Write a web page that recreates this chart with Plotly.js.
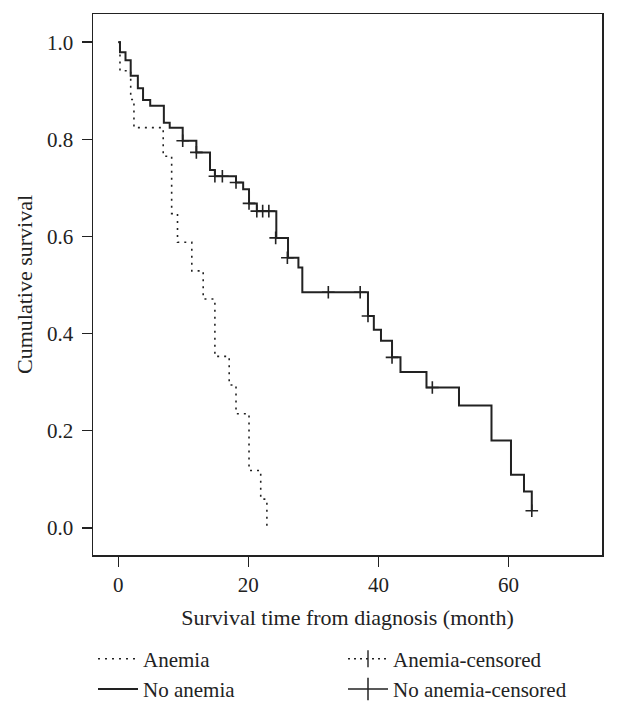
<!DOCTYPE html>
<html>
<head>
<meta charset="utf-8">
<script src="https://cdn.plot.ly/plotly-3.0.1.min.js"></script>
<style>
  html, body { margin: 0; padding: 0; background: #ffffff; }
  #chart { width: 617px; height: 708px; }
</style>
</head>
<body>
<div id="chart"></div>
<script>
// ---- data ----
const noAnemiaTime = [0, 0.25, 1.1, 1.9, 3.0, 3.8, 4.9, 7.0, 7.9, 9.9, 12.0, 14.1, 14.85, 18.1, 19.2, 20.1, 21.3, 24.3, 26.1, 27.7, 28.3, 38.4, 39.3, 40.4, 42.1, 43.4, 47.4, 52.4, 57.4, 60.4, 62.4, 63.6];
const noAnemiaSurv = [1.0, 0.979, 0.963, 0.931, 0.905, 0.881, 0.869, 0.834, 0.824, 0.797, 0.773, 0.737, 0.724, 0.711, 0.697, 0.668, 0.652, 0.597, 0.556, 0.536, 0.485, 0.436, 0.408, 0.385, 0.351, 0.321, 0.289, 0.252, 0.180, 0.109, 0.075, 0.035];

const noAnemiaCensorTime = [9.9, 12.0, 14.85, 16.0, 18.1, 20.1, 21.3, 22.2, 23.15, 24.2, 26.0, 32.3, 37.2, 38.4, 42.1, 48.3, 63.6];
const noAnemiaCensorSurv = [0.797, 0.773, 0.724, 0.724, 0.711, 0.668, 0.652, 0.652, 0.652, 0.597, 0.556, 0.485, 0.485, 0.436, 0.351, 0.289, 0.035];

const anemiaTime = [0, 0.25, 1.9, 2.4, 6.9, 8.2, 9.1, 11.3, 13.05, 14.85, 17.05, 18.1, 20.1, 21.9, 22.85];
const anemiaSurv = [1.0, 0.941, 0.882, 0.824, 0.765, 0.647, 0.588, 0.529, 0.471, 0.353, 0.294, 0.235, 0.118, 0.059, 0.0];

const xTicks = [0, 20, 40, 60];
const yTicks = [0.0, 0.2, 0.4, 0.6, 0.8, 1.0];
const seriesNames = ['Anemia', 'Anemia-censored', 'No anemia', 'No anemia-censored'];
const xTitle = 'Survival time from diagnosis (month)';
const yTitle = 'Cumulative survival';

// ---- styling ----
const ink = '#222222';
const serif = 'Liberation Serif, Times New Roman, serif';

const traces = [
  { // Anemia (dotted step)
    x: anemiaTime, y: anemiaSurv, type: 'scatter', mode: 'lines',
    line: { shape: 'hv', color: ink, width: 1.6, dash: '2px,5px' },
    name: seriesNames[0], hoverinfo: 'skip'
  },
  { // Anemia-censored (legend only)
    x: [null], y: [null], type: 'scatter', mode: 'lines+markers',
    line: { color: ink, width: 1.4, dash: '2px,4px' },
    marker: { symbol: 'line-ns-open', size: 12, color: ink, line: { color: ink, width: 1.4 } },
    name: seriesNames[1]
  },
  { // No anemia (solid step)
    x: noAnemiaTime, y: noAnemiaSurv, type: 'scatter', mode: 'lines',
    line: { shape: 'hv', color: ink, width: 2 },
    name: seriesNames[2], hoverinfo: 'skip'
  },
  { // No anemia-censored (legend only)
    x: [null], y: [null], type: 'scatter', mode: 'lines+markers',
    line: { color: ink, width: 1.5 },
    marker: { symbol: 'line-ns-open', size: 16, color: ink, line: { color: ink, width: 1.5 } },
    name: seriesNames[3]
  },
  { // No anemia censor marks
    x: noAnemiaCensorTime, y: noAnemiaCensorSurv, type: 'scatter', mode: 'markers',
    marker: { symbol: 'cross-thin-open', size: 9, color: ink, line: { color: ink, width: 1.6 } },
    showlegend: false, name: seriesNames[3], hoverinfo: 'skip'
  }
];

const layout = {
  width: 617, height: 708,
  paper_bgcolor: '#ffffff', plot_bgcolor: '#ffffff',
  margin: { l: 93, r: 15, t: 14, b: 153 },
  font: { family: serif, color: ink, size: 21 },
  showlegend: true,
  xaxis: {
    range: [-3.9, 74.4], tickvals: xTicks, ticktext: xTicks.map(String),
    ticks: 'outside', ticklen: 10, tickwidth: 1.5, tickcolor: ink,
    showline: true, linecolor: ink, linewidth: 1.5, mirror: true,
    showgrid: false, zeroline: false,
    tickfont: { family: serif, size: 21, color: ink },
    title: { text: xTitle, font: { family: serif, size: 22, color: ink }, standoff: 14 }
  },
  yaxis: {
    range: [-0.056, 1.058], tickvals: yTicks, ticktext: yTicks.map(v => v.toFixed(1)),
    ticks: 'outside', ticklen: 10, tickwidth: 1.5, tickcolor: ink,
    ticklabelstandoff: 4,
    showline: true, linecolor: ink, linewidth: 1.5, mirror: true,
    showgrid: false, zeroline: false,
    tickfont: { family: serif, size: 21, color: ink },
    title: { text: yTitle, font: { family: serif, size: 22, color: ink }, standoff: 8 }
  },
  legend: {
    orientation: 'h', xref: 'paper', x: 0, xanchor: 'left',
    yref: 'container', y: 0.098, yanchor: 'top',
    entrywidth: 195, entrywidthmode: 'pixels', itemwidth: 40,
    font: { family: serif, size: 21, color: ink },
    bgcolor: 'rgba(0,0,0,0)', tracegroupgap: 0
  }
};

Plotly.newPlot('chart', traces, layout, { displayModeBar: false, staticPlot: true });
</script>
</body>
</html>
